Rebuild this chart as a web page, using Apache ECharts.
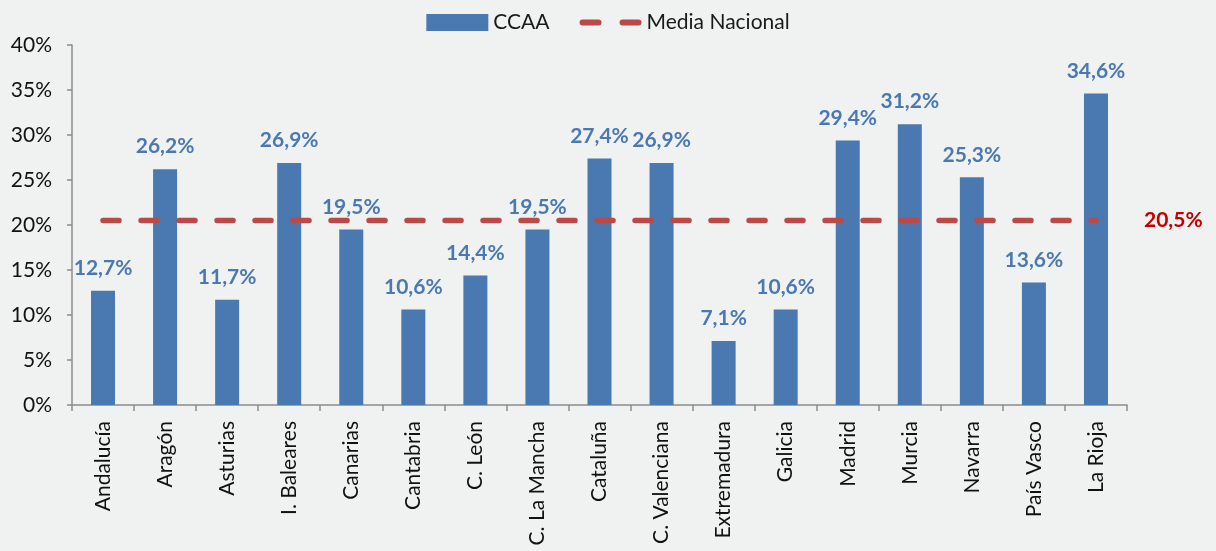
<!DOCTYPE html>
<html>
<head>
<meta charset="utf-8">
<script src="https://cdn.jsdelivr.net/npm/echarts@6/dist/echarts.min.js"></script>
<style>
  html, body { margin: 0; padding: 0; background: #f0f1f1; }
  #chart { width: 1216px; height: 551px; }
</style>
</head>
<body>
<div id="chart"></div>
<script>
const regions = ['Andalucía', 'Aragón', 'Asturias', 'I. Baleares', 'Canarias', 'Cantabria', 'C. León',
  'C. La Mancha', 'Cataluña', 'C. Valenciana', 'Extremadura', 'Galicia', 'Madrid', 'Murcia',
  'Navarra', 'País Vasco', 'La Rioja'];
const ccaaValues = [12.7, 26.2, 11.7, 26.9, 19.5, 10.6, 14.4, 19.5, 27.4, 26.9, 7.1, 10.6, 29.4, 31.2, 25.3, 13.6, 34.6];
const mediaNacional = 20.5;
const mediaValues = regions.map(() => mediaNacional);

const font = 'Lato, "Open Sans", sans-serif';
const fmt = v => v.toFixed(1).replace('.', ',') + '%';

const chart = echarts.init(document.getElementById('chart'));
chart.setOption({
  backgroundColor: '#f0f1f1',
  animation: false,
  textStyle: { fontFamily: font },
  legend: {
    top: 7,
    left: 'center',
    itemGap: 30,
    textStyle: { fontSize: 21, color: '#1a1a1a', fontFamily: font },
    data: [
      { name: 'CCAA', icon: 'rect' },
      { name: 'Media Nacional', icon: 'path://M3,0h16a3,3 0 0 1 0,6h-16a3,3 0 0 1 0,-6z M43,0h16a3,3 0 0 1 0,6h-16a3,3 0 0 1 0,-6z',
        itemStyle: { color: '#b94a48' } }
    ],
    itemWidth: 62,
    itemHeight: 17
  },
  grid: { left: 72, right: 89, top: 45, bottom: 146, containLabel: false },
  xAxis: {
    type: 'category',
    data: regions,
    axisLine: { lineStyle: { color: '#8c8c8c', width: 1.5 } },
    axisTick: { show: true, length: 6, lineStyle: { color: '#8c8c8c', width: 1.5 } },
    axisLabel: { rotate: 90, fontSize: 21, color: '#111', margin: 16, fontFamily: font, interval: 0 }
  },
  yAxis: {
    type: 'value',
    min: 0, max: 40, interval: 5,
    splitLine: { show: false },
    axisLine: { show: true, lineStyle: { color: '#8c8c8c', width: 1.5 } },
    axisTick: { show: true, length: 5, lineStyle: { color: '#8c8c8c', width: 1.5 } },
    axisLabel: { formatter: '{value}%', fontSize: 21, color: '#111', margin: 20, fontFamily: font }
  },
  series: [
    {
      name: 'CCAA',
      type: 'bar',
      data: ccaaValues,
      barWidth: 24,
      itemStyle: { color: '#4a78b0' },
      label: {
        show: true, position: 'top', distance: 12,
        formatter: p => fmt(p.value),
        fontSize: 21, fontWeight: 'bold', color: '#4a78b0', fontFamily: font
      }
    },
    {
      name: 'Media Nacional',
      type: 'line',
      data: mediaValues,
      symbol: 'none',
      itemStyle: { color: '#b94a48' },
      lineStyle: { color: '#b94a48', width: 5.5, type: [16, 22], cap: 'round' },
      endLabel: {
        show: true, distance: 48,
        formatter: () => fmt(mediaNacional),
        fontSize: 21, fontWeight: 'bold', color: '#c00000', fontFamily: font
      },
      z: 3
    }
  ]
});
</script>
</body>
</html>
